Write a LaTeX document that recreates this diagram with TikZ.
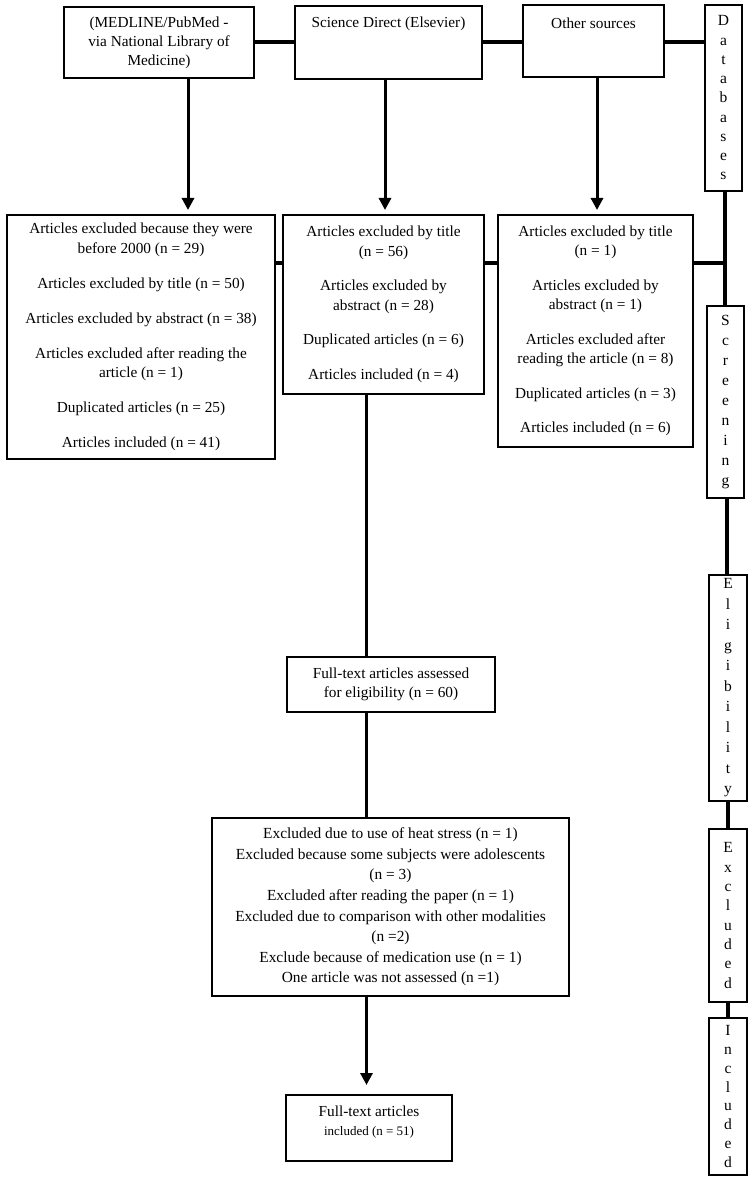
\documentclass[tikz,border=0pt]{standalone}
\usepackage{fontspec}
\setmainfont{Liberation Serif}
\usetikzlibrary{arrows.meta}
\newcommand\fsmain{\fontsize{15.3}{19.5}\selectfont}
\begin{document}
\begin{tikzpicture}[x=1pt,y=-1pt,
  box/.style={draw, line width=1.3pt, inner sep=0pt, outer sep=0pt, align=center, font=\fsmain},
  txt/.style={inner sep=0pt, align=center, font=\fsmain},
  vbox/.style={box, minimum width=37pt},
  conn/.style={line width=3.5pt},
  arr/.style={line width=3pt, -{Triangle[width=12pt,length=12pt]}}]
\fill[white] (0,0) rectangle (752,1190);
\useasboundingbox (0,0) rectangle (752,1190);
% top row
\node[box, minimum width=190pt, minimum height=71pt, font=\fontsize{15.3}{19}\selectfont] (med) at (159,42.5) {(MEDLINE/PubMed -\\via National Library of\\Medicine)};
\node[box, minimum width=187pt, minimum height=73pt] (sd) at (388.5,42.5) {};
\node[txt] (sdt) at (388.5,24) {Science Direct (Elsevier)};
\node[box, minimum width=141pt, minimum height=72pt] (oth) at (593.5,41) {};
\node[txt] (otht) at (593.5,23) {Other sources};
\node[vbox, minimum height=186pt, font=\fontsize{15.5}{19.25}\selectfont] (db) at (723.5,98) {D\\a\\t\\a\\b\\a\\s\\e\\s};
% second row
\node[box, minimum width=268pt, minimum height=244pt] (b1) at (141,337) {Articles excluded because they were\\before 2000 (n = 29)\\[15.5pt]Articles excluded by title (n = 50)\\[15.5pt]Articles excluded by abstract (n = 38)\\[15.5pt]Articles excluded after reading the\\article (n = 1)\\[15.5pt]Duplicated articles (n = 25)\\[15.5pt]Articles included (n = 41)};
\node[box, minimum width=201pt, minimum height=179pt] (b2) at (383.5,304.5) {Articles excluded by title\\(n = 56)\\[15pt]Articles excluded by\\abstract (n = 28)\\[15pt]Duplicated articles (n = 6)\\[15pt]Articles included (n = 4)};
\node[box, minimum width=195pt, minimum height=232pt] (b3) at (595.5,331) {Articles excluded by title\\(n = 1)\\[15pt]Articles excluded by\\abstract (n = 1)\\[15pt]Articles excluded after\\reading the article (n = 8)\\[15pt]Duplicated articles (n = 3)\\[15pt]Articles included (n = 6)};
\node[vbox, minimum height=192pt, font=\fontsize{15.5}{20}\selectfont] (scr) at (725.5,402) {S\\c\\r\\e\\e\\n\\i\\n\\g};
% lower part
\node[box, minimum width=208pt, minimum height=55pt] (ft) at (391,684.5) {Full-text articles assessed\\for eligibility (n = 60)};
\node[vbox, minimum width=38pt, minimum height=226pt, font=\fontsize{15.5}{20.5}\selectfont] (elig) at (728,688) {E\\l\\i\\g\\i\\b\\i\\l\\i\\t\\y};
\node[box, minimum width=357pt, minimum height=178pt, font=\fontsize{15.4}{20.6}\selectfont] (exc) at (390.5,907) {Excluded due to use of heat stress (n = 1)\\Excluded because some subjects were adolescents\\(n = 3)\\Excluded after reading the paper (n = 1)\\Excluded due to comparison with other modalities\\(n =2)\\Exclude because of medication use (n = 1)\\One article was not assessed (n =1)};
\node[vbox, minimum width=38pt, minimum height=173pt, font=\fontsize{15.5}{19.3}\selectfont] (exs) at (728,915.5) {E\\x\\c\\l\\u\\d\\e\\d};
\node[box, minimum width=166pt, minimum height=66pt] (fin) at (369,1128) {};
\node[txt, font=\fontsize{15.3}{19}\selectfont] (fint) at (369,1122.5) {Full-text articles\\{\fontsize{13}{19}\selectfont included (n = 51)}};
\node[vbox, minimum width=38pt, minimum height=157pt, font=\fontsize{15.5}{18.9}\selectfont] (inc) at (728,1096.5) {I\\n\\c\\l\\u\\d\\e\\d};
% helper coordinates
\coordinate (ty) at (0,42);
\coordinate (r2) at (0,263);
\coordinate (ax1) at (188,0);
\coordinate (ax2) at (385,0);
\coordinate (ax3) at (597,0);
\coordinate (vx) at (725,0);
\coordinate (vx2) at (727,0);
\coordinate (mx) at (366.5,0);
% connectors
\draw[conn] (med.east |- ty) -- (sd.west |- ty);
\draw[conn] (sd.east |- ty) -- (oth.west |- ty);
\draw[conn] (oth.east |- ty) -- (db.west |- ty);
\draw[arr, shorten >=5pt] (med.south -| ax1) -- (b1.north -| ax1);
\draw[arr, shorten >=5pt] (sd.south -| ax2) -- (b2.north -| ax2);
\draw[arr, shorten >=5pt] (oth.south -| ax3) -- (b3.north -| ax3);
\draw[conn] (b1.east |- r2) -- (b2.west |- r2);
\draw[conn] (b2.east |- r2) -- (b3.west |- r2);
\draw[conn] (b3.east |- r2) -- (vx |- r2);
\draw[conn] (db.south -| vx) -- (scr.north -| vx);
\draw[conn] (scr.south -| vx2) -- (elig.north -| vx2);
\draw[conn] (elig.south) -- (exs.north);
\draw[conn] (exs.south) -- (inc.north);
\draw[conn] (b2.south -| mx) -- (ft.north -| mx);
\draw[conn] (ft.south -| mx) -- (exc.north -| mx);
\draw[arr, shorten >=10pt] (exc.south -| mx) -- (fin.north -| mx);
\end{tikzpicture}
\end{document}
